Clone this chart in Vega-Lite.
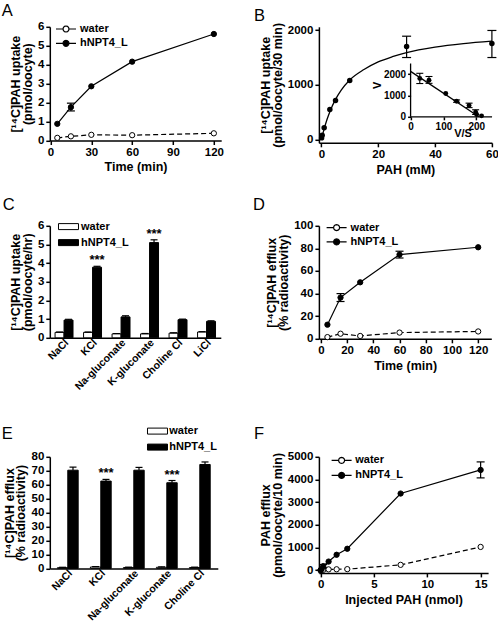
{
  "$schema": "https://vega.github.io/schema/vega-lite/v6.json",
  "padding": {"left": 1.8, "top": 1.8, "right": 0, "bottom": 0},
  "columns": 2,
  "bounds": "flush",
  "align": "each",
  "spacing": {"row": 0, "column": 97.1},
  "resolve": {"scale": {"fill": "independent", "strokeDash": "independent", "xOffset": "independent"}},
  "config": {
    "font": "Liberation Sans",
    "view": {"stroke": null},
    "axis": {"domainColor": "black", "domainWidth": 1.5, "tickColor": "black", "tickWidth": 1.5, "tickSize": 4, "labelColor": "black", "labelFont": "Liberation Sans", "labelFontWeight": "bold", "labelFontSize": 11.5, "labelPadding": 2, "titleColor": "black", "titleFont": "Liberation Sans", "titleFontWeight": "bold", "titleFontSize": 12.5, "titleLineHeight": 12, "titlePadding": 3, "grid": false, "labelFlush": false, "labelOverlap": false},
    "legend": {"labelFont": "Liberation Sans", "labelFontWeight": "bold", "labelFontSize": 11, "labelColor": "black", "padding": 0, "symbolStrokeColor": "black", "symbolOpacity": 1, "title": null},
    "title": {"font": "Liberation Sans", "fontWeight": "normal", "fontSize": 16.5, "color": "black", "anchor": "start", "frame": "group", "baseline": "alphabetic"}
  },
  "concat": [
    {
      "width": 171.4, "height": 113.7,
      "title": {"text": "A", "dx": -48, "offset": 1.55},
      "data": {"values": [
        {"s": "water", "t": 5, "v": 0.14}, {"s": "water", "t": 15, "v": 0.22}, {"s": "water", "t": 30, "v": 0.3}, {"s": "water", "t": 60, "v": 0.28}, {"s": "water", "t": 120, "v": 0.38},
        {"s": "hNPT4_L", "t": 5, "v": 0.88}, {"s": "hNPT4_L", "t": 15, "v": 1.76, "lo": 1.56, "hi": 1.97}, {"s": "hNPT4_L", "t": 30, "v": 2.86}, {"s": "hNPT4_L", "t": 60, "v": 4.16}, {"s": "hNPT4_L", "t": 120, "v": 5.62}
      ]},
      "encoding": {
        "x": {"field": "t", "type": "quantitative", "scale": {"domain": [-0.5, 125.4], "nice": false, "zero": false}, "axis": {"values": [0, 30, 60, 90, 120], "title": "Time (min)"}},
        "y": {"field": "v", "type": "quantitative", "scale": {"domain": [0, 6], "nice": false}, "axis": {"values": [0, 1, 2, 3, 4, 5, 6], "title": ["[¹⁴C]PAH uptake", "(pmol/oocyte)"]}}
      },
      "layer": [
        {"transform": [{"filter": "datum.s == 'water'"}], "mark": {"type": "line", "color": "black", "strokeWidth": 1.2, "strokeDash": [5, 3]}},
        {"transform": [{"filter": "datum.s == 'hNPT4_L'"}], "mark": {"type": "line", "color": "black", "strokeWidth": 1.2}},
        {"transform": [{"filter": "isValid(datum.lo)"}], "mark": {"type": "rule", "color": "black", "strokeWidth": 1.2}, "encoding": {"y": {"field": "lo", "type": "quantitative"}, "y2": {"field": "hi"}}},
        {"transform": [{"filter": "isValid(datum.lo)"}], "mark": {"type": "tick", "orient": "horizontal", "size": 8, "thickness": 1.2, "color": "black", "opacity": 1}, "encoding": {"y": {"field": "lo", "type": "quantitative"}}},
        {"transform": [{"filter": "isValid(datum.lo)"}], "mark": {"type": "tick", "orient": "horizontal", "size": 8, "thickness": 1.2, "color": "black", "opacity": 1}, "encoding": {"y": {"field": "hi", "type": "quantitative"}}},
        {"mark": {"type": "point", "shape": "circle", "filled": true, "size": 28, "stroke": "black", "strokeWidth": 1, "opacity": 1},
         "encoding": {"fill": {"field": "s", "type": "nominal", "scale": {"domain": ["water", "hNPT4_L"], "range": ["white", "black"]},
           "legend": {"orient": "none", "legendX": 10.2, "legendY": -3.8, "symbolType": "M-2,0H-0.6M0.6,0H2M0.6,0L0.52,0.3L0.3,0.52L0,0.6L-0.3,0.52L-0.52,0.3L-0.6,0L-0.52,-0.3L-0.3,-0.52L0,-0.6L0.3,-0.52L0.52,-0.3Z", "symbolSize": 100, "symbolStrokeWidth": 1.2, "labelOffset": 8, "rowPadding": 2.3}}}}
      ]
    },
    {
      "width": 173, "height": 116,
      "title": {"text": "B", "dx": -65, "offset": -1.85},
      "resolve": {"scale": {"x": "independent", "y": "independent"}},
      "layer": [
        {
          "layer": [
            {"data": {"values": [
              {"x": 0, "v": 0}, {"x": 0.5, "v": 100}, {"x": 1, "v": 195}, {"x": 2, "v": 365}, {"x": 3, "v": 510}, {"x": 5, "v": 735}, {"x": 7, "v": 905}, {"x": 10, "v": 1090}, {"x": 15, "v": 1280}, {"x": 20, "v": 1420}, {"x": 25, "v": 1515}, {"x": 30, "v": 1590}, {"x": 40, "v": 1690}, {"x": 50, "v": 1755}, {"x": 60, "v": 1800}
             ]},
             "mark": {"type": "line", "color": "black", "strokeWidth": 1.3, "interpolate": "monotone"},
             "encoding": {
               "x": {"field": "x", "type": "quantitative", "scale": {"domain": [-0.85, 60], "nice": false, "zero": false}, "axis": {"values": [0, 10, 20, 30, 40, 50, 60], "title": "PAH (mM)"}},
               "y": {"field": "v", "type": "quantitative", "scale": {"domain": [-60, 2062], "nice": false, "zero": false}, "axis": {"values": [0, 500, 1000, 1500, 2000], "format": "d", "title": ["[¹⁴C]PAH uptake", "(pmol/oocyte/30 min)"]}}
             }},
            {"data": {"values": [
              {"x": 0.1, "v": 30}, {"x": 0.3, "v": 80}, {"x": 1, "v": 214}, {"x": 3, "v": 549}, {"x": 5, "v": 713}, {"x": 10, "v": 1080}, {"x": 30, "v": 1700, "lo": 1500, "hi": 1890}, {"x": 60, "v": 1756, "lo": 1500, "hi": 1995}
             ]},
             "layer": [
               {"transform": [{"filter": "isValid(datum.lo)"}], "mark": {"type": "rule", "color": "black", "strokeWidth": 1.2}, "encoding": {"x": {"field": "x", "type": "quantitative"}, "y": {"field": "lo", "type": "quantitative"}, "y2": {"field": "hi"}}},
               {"transform": [{"filter": "isValid(datum.lo)"}], "mark": {"type": "tick", "orient": "horizontal", "size": 9, "thickness": 1.2, "color": "black", "opacity": 1}, "encoding": {"x": {"field": "x", "type": "quantitative"}, "y": {"field": "lo", "type": "quantitative"}}},
               {"transform": [{"filter": "isValid(datum.lo)"}], "mark": {"type": "tick", "orient": "horizontal", "size": 9, "thickness": 1.2, "color": "black", "opacity": 1}, "encoding": {"x": {"field": "x", "type": "quantitative"}, "y": {"field": "hi", "type": "quantitative"}}},
               {"mark": {"type": "point", "shape": "circle", "filled": true, "size": 30, "color": "black", "opacity": 1}, "encoding": {"x": {"field": "x", "type": "quantitative"}, "y": {"field": "v", "type": "quantitative"}}}
             ]}
          ]
        },
        {
          "layer": [
            {"data": {"values": [{"a": 0, "b": 0, "a2": 248, "b2": 0}, {"a": 0, "b": 0, "a2": 0, "b2": 2500}]},
             "mark": {"type": "rule", "color": "black", "strokeWidth": 1.3},
             "encoding": {
               "x": {"field": "a", "type": "quantitative", "scale": {"domain": [-279.1, 247.5], "nice": false, "zero": false},
                 "axis": {"orient": "bottom", "offset": -26, "domain": false, "values": [0, 100, 200], "labelFontSize": 10, "tickSize": 3, "title": "V/S", "titleX": 143.7, "titleY": 20, "titleBaseline": "alphabetic", "titleAlign": "center", "titleFontSize": 11}},
               "x2": {"field": "a2"},
               "y": {"field": "b", "type": "quantitative", "scale": {"domain": [-1219.5, 4221], "nice": false, "zero": false},
                 "axis": {"orient": "left", "offset": -91.7, "domain": false, "values": [0, 500, 1000, 1500, 2000, 2500], "format": "d", "labelFontSize": 10, "tickSize": 3, "title": "V", "titleFontSize": 11, "titlePadding": 1}},
               "y2": {"field": "b2"}
             }},
            {"data": {"values": [{"vs": 0, "v": 2130}, {"vs": 208, "v": 0}]},
             "mark": {"type": "line", "color": "black", "strokeWidth": 1.3},
             "encoding": {"x": {"field": "vs", "type": "quantitative"}, "y": {"field": "v", "type": "quantitative"}}},
            {"data": {"values": [
              {"vs": 28, "v": 1800, "lo": 1560, "hi": 2040}, {"vs": 56, "v": 1720, "lo": 1570, "hi": 1890}, {"vs": 107, "v": 1090}, {"vs": 140, "v": 730, "lo": 680, "hi": 790}, {"vs": 178, "v": 530, "lo": 430, "hi": 640}, {"vs": 198, "v": 220, "lo": 110, "hi": 330}, {"vs": 201, "v": 110}, {"vs": 216, "v": 45}
             ]},
             "layer": [
               {"transform": [{"filter": "isValid(datum.lo)"}], "mark": {"type": "rule", "color": "black", "strokeWidth": 1.1}, "encoding": {"x": {"field": "vs", "type": "quantitative"}, "y": {"field": "lo", "type": "quantitative"}, "y2": {"field": "hi"}}},
               {"transform": [{"filter": "isValid(datum.lo)"}], "mark": {"type": "tick", "orient": "horizontal", "size": 7, "thickness": 1.1, "color": "black", "opacity": 1}, "encoding": {"x": {"field": "vs", "type": "quantitative"}, "y": {"field": "lo", "type": "quantitative"}}},
               {"transform": [{"filter": "isValid(datum.lo)"}], "mark": {"type": "tick", "orient": "horizontal", "size": 7, "thickness": 1.1, "color": "black", "opacity": 1}, "encoding": {"x": {"field": "vs", "type": "quantitative"}, "y": {"field": "hi", "type": "quantitative"}}},
               {"mark": {"type": "point", "shape": "circle", "filled": true, "size": 24, "color": "black", "opacity": 1}, "encoding": {"x": {"field": "vs", "type": "quantitative"}, "y": {"field": "v", "type": "quantitative"}}}
             ]}
          ]
        }
      ]
    },
    {"width": 1, "height": 82.1, "data": {"values": []}, "mark": "point", "encoding": {}},
    {"width": 1, "height": 82.1, "data": {"values": []}, "mark": "point", "encoding": {}},
    {
      "width": 171, "height": 112,
      "title": {"text": "C", "dx": -47, "offset": 6.65},
      "data": {"values": [
        {"c": "NaCl", "s": "water", "v": 0.29, "hi": 0.31, "sig": ""},
        {"c": "NaCl", "s": "hNPT4_L", "v": 0.95, "hi": 0.99, "sig": ""},
        {"c": "KCl", "s": "water", "v": 0.29, "hi": 0.31, "sig": ""},
        {"c": "KCl", "s": "hNPT4_L", "v": 3.78, "hi": 3.83, "sig": "***"},
        {"c": "Na-gluconate", "s": "water", "v": 0.21, "hi": 0.23, "sig": ""},
        {"c": "Na-gluconate", "s": "hNPT4_L", "v": 1.12, "hi": 1.18, "sig": ""},
        {"c": "K-gluconate", "s": "water", "v": 0.21, "hi": 0.23, "sig": ""},
        {"c": "K-gluconate", "s": "hNPT4_L", "v": 5.1, "hi": 5.25, "sig": "***"},
        {"c": "Choline Cl", "s": "water", "v": 0.25, "hi": 0.27, "sig": ""},
        {"c": "Choline Cl", "s": "hNPT4_L", "v": 0.97, "hi": 1.0, "sig": ""},
        {"c": "LiCl", "s": "water", "v": 0.31, "hi": 0.33, "sig": ""},
        {"c": "LiCl", "s": "hNPT4_L", "v": 0.88, "hi": 0.91, "sig": ""}
      ]},
      "encoding": {
        "x": {"field": "c", "type": "nominal", "sort": ["NaCl", "KCl", "Na-gluconate", "K-gluconate", "Choline Cl", "LiCl"], "scale": {"paddingInner": 0.37, "paddingOuter": 0.185}, "axis": {"title": null, "labelAngle": -45, "labelAlign": "right", "labelBaseline": "middle", "labelFontSize": 10.5, "labelOffset": 3, "ticks": false, "tickSize": 0, "labelPadding": 3}},
        "xOffset": {"field": "s", "type": "nominal", "sort": ["water", "hNPT4_L"], "scale": {"paddingInner": 0, "paddingOuter": 0}},
        "y": {"field": "v", "type": "quantitative", "scale": {"domain": [0, 6], "nice": false}, "axis": {"values": [0, 1, 2, 3, 4, 5, 6], "title": ["[¹⁴C]PAH uptake", "(pmol/oocyte/hr)"]}}
      },
      "layer": [
        {"mark": {"type": "bar", "stroke": "black", "strokeWidth": 1},
         "encoding": {"fill": {"field": "s", "type": "nominal", "scale": {"domain": ["water", "hNPT4_L"], "range": ["white", "black"]},
           "legend": {"orient": "none", "legendX": 13.2, "legendY": -4.7, "symbolType": "M-2,-0.6H2V0.6H-2Z", "symbolSize": 100, "symbolStrokeWidth": 1, "labelOffset": 7, "rowPadding": 4}}}},
        {"mark": {"type": "rule", "color": "black", "strokeWidth": 1.2}, "encoding": {"y2": {"field": "hi"}}},
        {"mark": {"type": "tick", "orient": "horizontal", "size": 7, "thickness": 1.2, "color": "black", "opacity": 1}, "encoding": {"y": {"field": "hi", "type": "quantitative"}}},
        {"transform": [{"filter": "datum.sig != ''"}], "mark": {"type": "text", "fontSize": 13, "fontWeight": "bold", "baseline": "alphabetic", "dy": -2, "color": "black"}, "encoding": {"y": {"field": "hi", "type": "quantitative"}, "text": {"field": "sig"}}}
      ]
    },
    {
      "width": 172.4, "height": 113,
      "title": {"text": "D", "dx": -66, "offset": 6.65},
      "data": {"values": [
        {"s": "water", "t": 5, "v": 1.5}, {"s": "water", "t": 15, "v": 4.5}, {"s": "water", "t": 30, "v": 2.5}, {"s": "water", "t": 60, "v": 5.5}, {"s": "water", "t": 120, "v": 6.5},
        {"s": "hNPT4_L", "t": 5, "v": 12.5}, {"s": "hNPT4_L", "t": 15, "v": 36.5, "lo": 33, "hi": 40}, {"s": "hNPT4_L", "t": 30, "v": 50}, {"s": "hNPT4_L", "t": 60, "v": 74.5, "lo": 71.5, "hi": 77.5}, {"s": "hNPT4_L", "t": 120, "v": 81}
      ]},
      "encoding": {
        "x": {"field": "t", "type": "quantitative", "scale": {"domain": [-1.5, 130], "nice": false, "zero": false}, "axis": {"values": [0, 20, 40, 60, 80, 100, 120], "title": "Time (min)"}},
        "y": {"field": "v", "type": "quantitative", "scale": {"domain": [0, 100], "nice": false}, "axis": {"values": [0, 20, 40, 60, 80, 100], "title": ["[¹⁴C]PAH efflux", "(% radioactivity)"]}}
      },
      "layer": [
        {"transform": [{"filter": "datum.s == 'water'"}], "mark": {"type": "line", "color": "black", "strokeWidth": 1.2, "strokeDash": [5, 3]}},
        {"transform": [{"filter": "datum.s == 'hNPT4_L'"}], "mark": {"type": "line", "color": "black", "strokeWidth": 1.2}},
        {"transform": [{"filter": "isValid(datum.lo)"}], "mark": {"type": "rule", "color": "black", "strokeWidth": 1.2}, "encoding": {"y": {"field": "lo", "type": "quantitative"}, "y2": {"field": "hi"}}},
        {"transform": [{"filter": "isValid(datum.lo)"}], "mark": {"type": "tick", "orient": "horizontal", "size": 8, "thickness": 1.2, "color": "black", "opacity": 1}, "encoding": {"y": {"field": "lo", "type": "quantitative"}}},
        {"transform": [{"filter": "isValid(datum.lo)"}], "mark": {"type": "tick", "orient": "horizontal", "size": 8, "thickness": 1.2, "color": "black", "opacity": 1}, "encoding": {"y": {"field": "hi", "type": "quantitative"}}},
        {"mark": {"type": "point", "shape": "circle", "filled": true, "size": 28, "stroke": "black", "strokeWidth": 1, "opacity": 1},
         "encoding": {"fill": {"field": "s", "type": "nominal", "scale": {"domain": ["water", "hNPT4_L"], "range": ["white", "black"]},
           "legend": {"orient": "none", "legendX": 11.7, "legendY": -4.2, "symbolType": "M-2,0H-0.6M0.6,0H2M0.6,0L0.52,0.3L0.3,0.52L0,0.6L-0.3,0.52L-0.52,0.3L-0.6,0L-0.52,-0.3L-0.3,-0.52L0,-0.6L0.3,-0.52L0.52,-0.3Z", "symbolSize": 100, "symbolStrokeWidth": 1.2, "labelOffset": 8, "rowPadding": 2.3}}}}
      ]
    },
    {"width": 1, "height": 117.8, "data": {"values": []}, "mark": "point", "encoding": {}},
    {"width": 1, "height": 117.8, "data": {"values": []}, "mark": "point", "encoding": {}},
    {
      "width": 168, "height": 111.6,
      "title": {"text": "E", "dx": -48, "offset": -16.7},
      "data": {"values": [
        {"c": "NaCl", "s": "water", "v": 0.5, "hi": 0.8, "sig": ""},
        {"c": "NaCl", "s": "hNPT4_L", "v": 70.4, "hi": 72.6, "sig": ""},
        {"c": "KCl", "s": "water", "v": 1.0, "hi": 1.3, "sig": ""},
        {"c": "KCl", "s": "hNPT4_L", "v": 62.6, "hi": 63.8, "sig": "***"},
        {"c": "Na-gluconate", "s": "water", "v": 0.6, "hi": 0.9, "sig": ""},
        {"c": "Na-gluconate", "s": "hNPT4_L", "v": 70.4, "hi": 72.4, "sig": ""},
        {"c": "K-gluconate", "s": "water", "v": 0.8, "hi": 1.1, "sig": ""},
        {"c": "K-gluconate", "s": "hNPT4_L", "v": 61.4, "hi": 63.0, "sig": "***"},
        {"c": "Choline Cl", "s": "water", "v": 0.6, "hi": 0.9, "sig": ""},
        {"c": "Choline Cl", "s": "hNPT4_L", "v": 74.5, "hi": 76.3, "sig": ""}
      ]},
      "encoding": {
        "x": {"field": "c", "type": "nominal", "sort": ["NaCl", "KCl", "Na-gluconate", "K-gluconate", "Choline Cl"], "scale": {"paddingInner": 0.37, "paddingOuter": 0.23}, "axis": {"title": null, "labelAngle": -45, "labelAlign": "right", "labelBaseline": "middle", "labelFontSize": 10.5, "labelOffset": 3, "ticks": false, "tickSize": 0, "labelPadding": 3}},
        "xOffset": {"field": "s", "type": "nominal", "sort": ["water", "hNPT4_L"], "scale": {"paddingInner": 0, "paddingOuter": 0}},
        "y": {"field": "v", "type": "quantitative", "scale": {"domain": [0, 80], "nice": false}, "axis": {"values": [0, 10, 20, 30, 40, 50, 60, 70, 80], "title": ["[¹⁴C]PAH efflux", "(% radioactivity)"]}}
      },
      "layer": [
        {"mark": {"type": "bar", "stroke": "black", "strokeWidth": 1},
         "encoding": {"fill": {"field": "s", "type": "nominal", "scale": {"domain": ["water", "hNPT4_L"], "range": ["white", "black"]},
           "legend": {"orient": "none", "legendX": 102.2, "legendY": -31.2, "symbolType": "M-2,-0.6H2V0.6H-2Z", "symbolSize": 100, "symbolStrokeWidth": 1, "labelOffset": 6.3, "rowPadding": 4}}}},
        {"mark": {"type": "rule", "color": "black", "strokeWidth": 1.2}, "encoding": {"y2": {"field": "hi"}}},
        {"mark": {"type": "tick", "orient": "horizontal", "size": 7, "thickness": 1.2, "color": "black", "opacity": 1}, "encoding": {"y": {"field": "hi", "type": "quantitative"}}},
        {"transform": [{"filter": "datum.sig != ''"}], "mark": {"type": "text", "fontSize": 13, "fontWeight": "bold", "baseline": "alphabetic", "dy": -2, "color": "black"}, "encoding": {"y": {"field": "hi", "type": "quantitative"}, "text": {"field": "sig"}}}
      ]
    },
    {
      "width": 169.2, "height": 116.1,
      "title": {"text": "F", "dx": -65, "offset": 8.75},
      "data": {"values": [
        {"s": "water", "x": 0, "v": 0}, {"s": "water", "x": 0.1, "v": 5}, {"s": "water", "x": 0.25, "v": 15}, {"s": "water", "x": 0.75, "v": 35}, {"s": "water", "x": 1.5, "v": 40}, {"s": "water", "x": 2.5, "v": 45}, {"s": "water", "x": 7.5, "v": 235}, {"s": "water", "x": 15, "v": 1025},
        {"s": "hNPT4_L", "x": 0, "v": 0}, {"s": "hNPT4_L", "x": 0.1, "v": 50}, {"s": "hNPT4_L", "x": 0.25, "v": 180, "lo": 110, "hi": 250}, {"s": "hNPT4_L", "x": 0.75, "v": 380}, {"s": "hNPT4_L", "x": 1.5, "v": 680}, {"s": "hNPT4_L", "x": 2.5, "v": 945}, {"s": "hNPT4_L", "x": 7.5, "v": 3380}, {"s": "hNPT4_L", "x": 15, "v": 4420, "lo": 4070, "hi": 4775}
      ]},
      "encoding": {
        "x": {"field": "x", "type": "quantitative", "scale": {"domain": [-0.16, 15.7], "nice": false, "zero": false}, "axis": {"values": [0, 5, 10, 15], "title": "Injected PAH (nmol)"}},
        "y": {"field": "v", "type": "quantitative", "scale": {"domain": [-120, 5000], "nice": false, "zero": false}, "axis": {"values": [0, 1000, 2000, 3000, 4000, 5000], "format": "d", "title": ["PAH efflux", "(pmol/oocyte/10 min)"]}}
      },
      "layer": [
        {"transform": [{"filter": "datum.s == 'water'"}], "mark": {"type": "line", "color": "black", "strokeWidth": 1.2, "strokeDash": [5, 3]}},
        {"transform": [{"filter": "datum.s == 'hNPT4_L'"}], "mark": {"type": "line", "color": "black", "strokeWidth": 1.2}},
        {"transform": [{"filter": "isValid(datum.lo)"}], "mark": {"type": "rule", "color": "black", "strokeWidth": 1.2}, "encoding": {"y": {"field": "lo", "type": "quantitative"}, "y2": {"field": "hi"}}},
        {"transform": [{"filter": "isValid(datum.lo)"}], "mark": {"type": "tick", "orient": "horizontal", "size": 8, "thickness": 1.2, "color": "black", "opacity": 1}, "encoding": {"y": {"field": "lo", "type": "quantitative"}}},
        {"transform": [{"filter": "isValid(datum.lo)"}], "mark": {"type": "tick", "orient": "horizontal", "size": 8, "thickness": 1.2, "color": "black", "opacity": 1}, "encoding": {"y": {"field": "hi", "type": "quantitative"}}},
        {"mark": {"type": "point", "shape": "circle", "filled": true, "size": 28, "stroke": "black", "strokeWidth": 1, "opacity": 1},
         "encoding": {"fill": {"field": "s", "type": "nominal", "scale": {"domain": ["water", "hNPT4_L"], "range": ["white", "black"]},
           "legend": {"orient": "none", "legendX": 16.7, "legendY": -2.4, "symbolType": "M-2,0H-0.6M0.6,0H2M0.6,0L0.52,0.3L0.3,0.52L0,0.6L-0.3,0.52L-0.52,0.3L-0.6,0L-0.52,-0.3L-0.3,-0.52L0,-0.6L0.3,-0.52L0.52,-0.3Z", "symbolSize": 100, "symbolStrokeWidth": 1.2, "labelOffset": 7.7, "rowPadding": 3}}}}
      ]
    }
  ]
}
